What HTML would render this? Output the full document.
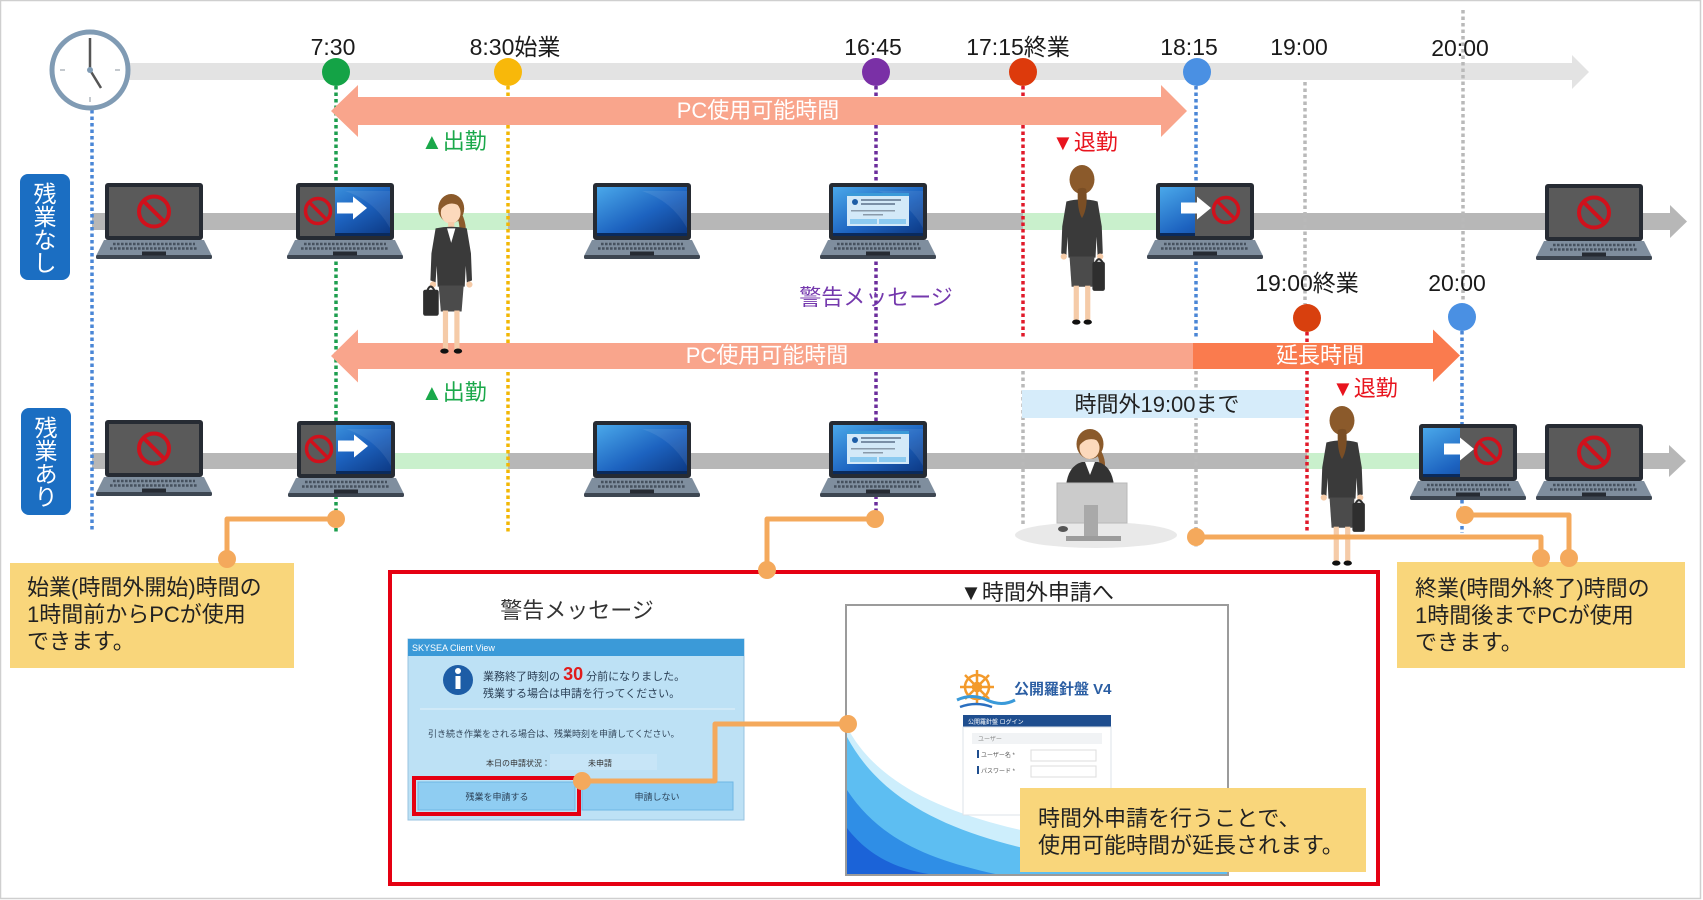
<!DOCTYPE html>
<html><head><meta charset="utf-8">
<style>
html,body{margin:0;padding:0;background:#fff;}
body{width:1703px;height:900px;overflow:hidden;}
svg{display:block;}
text{font-family:"Liberation Sans","Noto Sans CJK JP",sans-serif;}
</style></head>
<body>
<svg width="1703" height="900" viewBox="0 0 1703 900" xmlns="http://www.w3.org/2000/svg">
<defs>
 <linearGradient id="gScr" x1="0" y1="0" x2="1" y2="1">
  <stop offset="0" stop-color="#4aa8ea"/>
  <stop offset="0.55" stop-color="#1d63c0"/>
  <stop offset="1" stop-color="#0c3781"/>
 </linearGradient>
 <g id="lap">
  <rect x="-49" y="0" width="98" height="57" rx="3" fill="#262b33"/>
  <polygon points="-50,57 50,57 58,73 -58,73" fill="#7f8e9e"/>
  <rect x="-58" y="72" width="116" height="4" rx="1.5" fill="#3d4651"/>
  <line x1="-41" y1="61" x2="41" y2="61" stroke="#46515e" stroke-width="2.5" stroke-dasharray="2.6 1.4"/>
  <line x1="-44" y1="65.5" x2="44" y2="65.5" stroke="#46515e" stroke-width="2.5" stroke-dasharray="2.6 1.4"/>
  <rect x="-12" y="68.5" width="24" height="4" fill="#262b33"/>
 </g>
 <g id="sOff">
  <rect x="-45" y="4" width="90" height="49" fill="#5a5a5a"/>
  <circle cx="0" cy="28.5" r="15" fill="none" stroke="#d0111c" stroke-width="4"/>
  <line x1="-10.6" y1="17.9" x2="10.6" y2="39.1" stroke="#d0111c" stroke-width="4"/>
 </g>
 <g id="sOn">
  <rect x="-45" y="4" width="90" height="49" fill="url(#gScr)"/>
  <path d="M0,8 Q30,18 45,45 L45,8Z" fill="#fff" opacity="0.08"/>
  <rect x="-45" y="50" width="90" height="3" fill="#0a2a5c"/>
 </g>
 <g id="pro">
  <circle r="12.5" fill="none" stroke="#d0111c" stroke-width="3.5"/>
  <line x1="-8.8" y1="-8.8" x2="8.8" y2="8.8" stroke="#d0111c" stroke-width="3.5"/>
 </g>
 <g id="arw"><polygon points="-15,-5.5 1,-5.5 1,-11.5 15,0 1,11.5 1,5.5 -15,5.5" fill="#fff"/></g>
 <g id="sDlg">
  <rect x="-31" y="10" width="62" height="33" fill="#d3e9f8"/>
  <rect x="-31" y="10" width="62" height="3" fill="#3b9ad8"/>
  <circle cx="-23" cy="19" r="3" fill="#1d5da6"/>
  <rect x="-17" y="16" width="40" height="2" fill="#7a8fa6"/>
  <rect x="-17" y="20" width="34" height="2" fill="#7a8fa6"/>
  <rect x="-27" y="27" width="44" height="1.5" fill="#8a9aaa"/>
  <rect x="-15" y="31" width="20" height="1.5" fill="#8a9aaa"/>
  <rect x="-28" y="36" width="27" height="5" fill="#8ccaf0"/>
  <rect x="1" y="36" width="27" height="5" fill="#8ccaf0"/>
 </g>
 <g id="wf">
  <path d="M38,16 Q47,30 43,48 Q39,50 37,44 Q40,30 34,20Z" fill="#8b5a2b"/>
  <ellipse cx="30" cy="15" rx="12.5" ry="14" fill="#8b5a2b"/>
  <ellipse cx="29.5" cy="19" rx="9.5" ry="10.5" fill="#fcd9bc"/>
  <path d="M19,17 Q20,3 31,3 Q41,4 41,15 Q34,8 26,11 Q22,13 19,17Z" fill="#8b5a2b"/>
  <rect x="27" y="28" width="6" height="7" fill="#f5cba8"/>
  <path d="M15,34 Q30,31 45,34 L49,58 L50,84 L45,86 L44,70 L43,90 L17,90 L16,70 L15,86 L10,84 L11,58Z" fill="#3a3a3a"/>
  <polygon points="26,34 34,34 30,48" fill="#fff"/>
  <path d="M18,89 L42,89 L40,114 L20,114Z" fill="#4b4b4b"/>
  <rect x="22" y="113" width="5" height="38" fill="#f5cba8"/>
  <rect x="33" y="113" width="5" height="38" fill="#f5cba8"/>
  <ellipse cx="23.5" cy="152" rx="4" ry="2.5" fill="#111"/>
  <ellipse cx="36.5" cy="152" rx="4" ry="2.5" fill="#111"/>
  <circle cx="12.5" cy="88" r="3" fill="#f5cba8"/>
  <circle cx="47.5" cy="88" r="3" fill="#f5cba8"/>
  <path d="M7,94 Q10,86 14,94" stroke="#2e2e2e" fill="none" stroke-width="2"/>
  <rect x="3" y="93" width="15" height="25" rx="2" fill="#2e2e2e"/>
 </g>
 <g id="wb">
  <ellipse cx="25" cy="15" rx="12" ry="14" fill="#8b5a2b"/>
  <path d="M10,36 Q25,32 40,36 L44,60 L45,86 L40,88 L39,70 L38,90 L12,90 L11,70 L10,88 L5,86 L6,60Z" fill="#3a3a3a"/>
  <path d="M21,24 Q26,22 29,24 Q31,42 25,52 Q20,44 21,24Z" fill="#7a4e25"/>
  <path d="M13,89 L37,89 L35,118 L15,118Z" fill="#4b4b4b"/>
  <rect x="17" y="117" width="5" height="34" fill="#f5cba8"/>
  <rect x="28" y="117" width="5" height="34" fill="#f5cba8"/>
  <ellipse cx="19.5" cy="152" rx="4" ry="2.5" fill="#111"/>
  <ellipse cx="30.5" cy="152" rx="4" ry="2.5" fill="#111"/>
  <circle cx="7.5" cy="89" r="3" fill="#f5cba8"/>
  <circle cx="42.5" cy="89" r="3" fill="#f5cba8"/>
  <path d="M38,95 Q41,88 45,95" stroke="#2e2e2e" fill="none" stroke-width="2"/>
  <rect x="35" y="94" width="12" height="28" rx="2" fill="#2e2e2e"/>
 </g>
 <clipPath id="webClip"><rect x="847" y="606" width="380" height="268"/></clipPath>
</defs>

<!-- outer border -->
<rect x="0.5" y="0.5" width="1700" height="898" fill="#fff" stroke="#cfcfcf" stroke-width="1.5"/>

<!-- top timeline bar -->
<rect x="95" y="63" width="1477" height="17" fill="#e3e3e3"/>
<polygon points="1572,55 1589,72 1572,89" fill="#e3e3e3"/>

<!-- row bars -->
<rect x="92" y="213" width="1578" height="17" fill="#b7b7b7"/>
<polygon points="1670,205 1687,221.5 1670,238" fill="#b7b7b7"/>
<rect x="336" y="213" width="172" height="17" fill="#c9f0cc"/>
<rect x="1023" y="213" width="174" height="17" fill="#c9f0cc"/>

<rect x="92" y="453" width="1577" height="16" fill="#b7b7b7"/>
<polygon points="1669,445 1686,461 1669,477" fill="#b7b7b7"/>
<rect x="336" y="453" width="172" height="16" fill="#c9f0cc"/>
<rect x="1307" y="453" width="155" height="16" fill="#c9f0cc"/>

<!-- dotted lines -->
<g stroke-width="3.5" stroke-dasharray="3.5 3" fill="none">
 <line x1="92" y1="110" x2="92" y2="532" stroke="#4a86d6"/>
 <line x1="336" y1="86" x2="336" y2="532" stroke="#1d9e4e"/>
 <line x1="508" y1="86" x2="508" y2="532" stroke="#f2b705"/>
 <line x1="876" y1="86" x2="876" y2="519" stroke="#6b2d9c"/>
 <line x1="1023" y1="86" x2="1023" y2="337" stroke="#e01a2a"/>
 <line x1="1023" y1="345" x2="1023" y2="527" stroke="#b9b9b9"/>
 <line x1="1196" y1="86" x2="1196" y2="337" stroke="#4a86d6"/>
 <line x1="1196" y1="345" x2="1196" y2="547" stroke="#b9b9b9"/>
 <line x1="1305" y1="82" x2="1305" y2="304" stroke="#b9b9b9"/>
 <line x1="1307" y1="332" x2="1307" y2="532" stroke="#e01a2a"/>
 <line x1="1463" y1="10" x2="1463" y2="302" stroke="#b9b9b9"/>
 <line x1="1462" y1="331" x2="1462" y2="533" stroke="#4a86d6"/>
</g>

<!-- clock -->
<circle cx="90" cy="70" r="38" fill="#fff" stroke="#809bb4" stroke-width="5"/>
<g stroke="#c4c9ce" stroke-width="2">
 <line x1="60" y1="70" x2="65" y2="70"/><line x1="115" y1="70" x2="120" y2="70"/>
 <line x1="90" y1="97" x2="90" y2="102"/>
</g>
<line x1="90" y1="70" x2="90" y2="38" stroke="#555" stroke-width="2.5"/>
<line x1="90" y1="70" x2="101" y2="88" stroke="#555" stroke-width="2.5"/>
<circle cx="90" cy="70" r="3" fill="#7f9bb4"/>

<!-- timeline dots -->
<circle cx="336" cy="72" r="14" fill="#14a346"/>
<circle cx="508" cy="72" r="14" fill="#f8b80a"/>
<circle cx="876" cy="72" r="14" fill="#7a30a6"/>
<circle cx="1023" cy="72" r="14" fill="#dd3a0c"/>
<circle cx="1197" cy="72" r="14" fill="#4a90e3"/>
<circle cx="1307" cy="318" r="14" fill="#d8400e"/>
<circle cx="1462" cy="317" r="14" fill="#4a90e3"/>

<!-- time labels -->
<g font-size="23" fill="#1a1a1a" text-anchor="middle">
 <text x="333" y="55">7:30</text>
 <text x="515" y="55">8:30始業</text>
 <text x="873" y="55">16:45</text>
 <text x="1018" y="55">17:15終業</text>
 <text x="1189" y="55">18:15</text>
 <text x="1299" y="55">19:00</text>
 <text x="1460" y="56">20:00</text>
 <text x="1307" y="291">19:00終業</text>
 <text x="1457" y="291">20:00</text>
</g>

<!-- salmon arrows -->
<polygon points="331,111 358,85 358,97 1161,97 1161,85 1187,111 1161,137 1161,125 358,125 358,137" fill="#f9a58c"/>
<text x="758" y="118" font-size="22" fill="#fff" text-anchor="middle">PC使用可能時間</text>

<polygon points="331,356 358,329.5 358,343 1194,343 1194,369 358,369 358,382.5" fill="#f9a58c"/>
<polygon points="1193,343 1433,343 1433,329.5 1460,355.5 1433,382 1433,369 1193,369" fill="#fa7b4e"/>
<text x="767" y="363" font-size="22" fill="#fff" text-anchor="middle">PC使用可能時間</text>
<text x="1320" y="363" font-size="22" fill="#fff" text-anchor="middle">延長時間</text>

<!-- attendance labels -->
<g font-size="22">
 <text x="421" y="149" fill="#1aa84a">▲出勤</text>
 <text x="421" y="400" fill="#1aa84a">▲出勤</text>
 <text x="1052" y="150" fill="#e8141e">▼退勤</text>
 <text x="1332" y="396" fill="#e8141e">▼退勤</text>
 <text x="876" y="305" fill="#7438ad" text-anchor="middle">警告メッセージ</text>
</g>

<!-- row labels -->
<rect x="20" y="174" width="50" height="106" rx="8" fill="#1b6ec2"/>
<g font-size="23" fill="#fff" text-anchor="middle">
 <text x="45" y="202">残</text><text x="45" y="225">業</text><text x="45" y="248">な</text><text x="45" y="271">し</text>
</g>
<rect x="21" y="408" width="50" height="107" rx="8" fill="#1b6ec2"/>
<g font-size="23" fill="#fff" text-anchor="middle">
 <text x="46" y="436">残</text><text x="46" y="459">業</text><text x="46" y="482">あ</text><text x="46" y="505">り</text>
</g>

<!-- row 1 laptops -->
<use href="#lap" x="154" y="183"/><use href="#sOff" x="154" y="183"/>
<use href="#lap" x="345" y="183"/><use href="#sOn" x="345" y="183"/>
<rect x="300" y="187" width="35" height="49" fill="#5a5a5a"/>
<use href="#pro" x="318" y="211"/><use href="#arw" x="352" y="208"/>
<use href="#lap" x="642" y="183"/><use href="#sOn" x="642" y="183"/>
<use href="#lap" x="878" y="183"/><use href="#sOn" x="878" y="183"/><use href="#sDlg" x="878" y="183"/>
<use href="#lap" x="1205" y="183"/><use href="#sOn" x="1205" y="183"/>
<rect x="1195" y="187" width="55" height="49" fill="#5a5a5a"/>
<use href="#pro" x="1226" y="210"/><use href="#arw" x="1196" y="208"/>
<use href="#lap" x="1594" y="184"/><use href="#sOff" x="1594" y="184"/>

<!-- row 2 laptops -->
<use href="#lap" x="154" y="420"/><use href="#sOff" x="154" y="420"/>
<use href="#lap" x="346" y="421"/><use href="#sOn" x="346" y="421"/>
<rect x="301" y="425" width="35" height="49" fill="#5a5a5a"/>
<use href="#pro" x="319" y="449"/><use href="#arw" x="353" y="446"/>
<use href="#lap" x="642" y="421"/><use href="#sOn" x="642" y="421"/>
<use href="#lap" x="878" y="421"/><use href="#sOn" x="878" y="421"/><use href="#sDlg" x="878" y="421"/>
<use href="#lap" x="1468" y="424"/><use href="#sOn" x="1468" y="424"/>
<rect x="1460" y="428" width="53" height="49" fill="#5a5a5a"/>
<use href="#pro" x="1488" y="451"/><use href="#arw" x="1459" y="449"/>
<use href="#lap" x="1594" y="424"/><use href="#sOff" x="1594" y="424"/>

<!-- women -->
<use href="#wf" transform="translate(420,193) scale(1.04)"/>
<use href="#wb" transform="translate(1056,164) scale(1.04)"/>
<use href="#wb" transform="translate(1316,405) scale(1.04)"/>

<!-- light blue band -->
<rect x="1022" y="390" width="283" height="28" fill="#d6ecfa"/>
<text x="1157" y="412" font-size="22" fill="#222" text-anchor="middle">時間外19:00まで</text>

<!-- seated woman at desk -->
<ellipse cx="1096" cy="535" rx="81" ry="13" fill="#e9e9e9"/>
<path d="M1097,445 Q1108,458 1104,474 Q1100,476 1099,470 Q1101,458 1094,450Z" fill="#8b5a2b"/>
<ellipse cx="1090" cy="444" rx="13.5" ry="15" fill="#8b5a2b"/>
<ellipse cx="1089.5" cy="448" rx="10" ry="11" fill="#fcd9bc"/>
<path d="M1079,446 Q1080,431 1091,431 Q1102,432 1102,444 Q1095,437 1086,440 Q1082,442 1079,446Z" fill="#8b5a2b"/>
<path d="M1066,486 Q1068,466 1082,462 L1098,462 Q1112,466 1114,486Z" fill="#333"/>
<polygon points="1085,462 1095,462 1090,475" fill="#fff"/>
<rect x="1057" y="483" width="70" height="40" fill="#cbcbcb" stroke="#b8b8b8"/>
<rect x="1084" y="505" width="14" height="33" fill="#a9a9a9"/>
<rect x="1066" y="536" width="55" height="5" fill="#9c9c9c"/>
<ellipse cx="1063" cy="529" rx="5" ry="3" fill="#555"/>

<!-- yellow boxes -->
<rect x="10" y="563" width="284" height="105" fill="#f9d67b"/>
<g font-size="22" fill="#222">
 <text x="27" y="595">始業(時間外開始)時間の</text>
 <text x="27" y="622">1時間前からPCが使用</text>
 <text x="27" y="649">できます。</text>
</g>
<rect x="1397" y="562" width="288" height="106" fill="#f9d67b"/>
<g font-size="22" fill="#222">
 <text x="1415" y="596">終業(時間外終了)時間の</text>
 <text x="1415" y="623">1時間後までPCが使用</text>
 <text x="1415" y="650">できます。</text>
</g>

<!-- red box -->
<rect x="390" y="572" width="988" height="312" fill="#fff" stroke="#e50012" stroke-width="4"/>
<text x="577" y="618" font-size="22" fill="#333" text-anchor="middle">警告メッセージ</text>
<text x="1037" y="600" font-size="22" fill="#222" text-anchor="middle">▼時間外申請へ</text>

<!-- dialog screenshot -->
<rect x="408" y="639" width="336" height="181" fill="#bde1f5" stroke="#98c3e0"/>
<rect x="408" y="639" width="336" height="17" fill="#3b9ad8"/>
<text x="412" y="651" font-size="9" fill="#fff">SKYSEA Client View</text>
<circle cx="458" cy="680" r="15" fill="#1d5da6"/>
<rect x="455.5" y="676" width="5" height="13" fill="#fff"/>
<circle cx="458" cy="671" r="3" fill="#fff"/>
<text x="483" y="680" font-size="11" fill="#2a3f55">業務終了時刻の <tspan fill="#e01b1b" font-size="18" font-weight="bold">30</tspan> 分前になりました。</text>
<text x="483" y="697" font-size="11" fill="#2a3f55">残業する場合は申請を行ってください。</text>
<line x1="420" y1="709" x2="735" y2="709" stroke="#d7ecf8" stroke-width="1.5"/>
<text x="428" y="737" font-size="9" fill="#33475b">引き続き作業をされる場合は、残業時刻を申請してください。</text>
<rect x="550" y="754" width="107" height="16" fill="#c7e5f7"/>
<text x="518" y="766" font-size="8" fill="#333" text-anchor="middle">本日の申請状況：</text>
<text x="600" y="766" font-size="8" fill="#333" text-anchor="middle">未申請</text>
<rect x="418" y="782" width="157" height="28" fill="#8fcdf2" stroke="#6fb6e4"/>
<rect x="582" y="782" width="151" height="28" fill="#8fcdf2" stroke="#6fb6e4"/>
<text x="497" y="800" font-size="9" fill="#2a3f55" text-anchor="middle">残業を申請する</text>
<text x="657" y="800" font-size="9" fill="#2a3f55" text-anchor="middle">申請しない</text>
<rect x="414" y="778" width="165" height="36" fill="none" stroke="#e50012" stroke-width="4"/>

<!-- web screenshot -->
<rect x="846" y="605" width="382" height="270" fill="#fff" stroke="#9b9b9b" stroke-width="2"/>
<g clip-path="url(#webClip)">
 <path d="M847,727 C880,790 960,820 1060,838 L1228,852 L1228,875 L847,875Z" fill="#cdeefc"/>
 <path d="M847,737 C882,802 950,832 1040,852 L1228,872 L1228,875 L847,875Z" fill="#5dbef2"/>
 <path d="M847,790 C880,840 930,860 1000,875 L847,875Z" fill="#2f8ee6"/>
 <path d="M847,828 C870,858 900,870 935,875 L847,875Z" fill="#1b63d8"/>
</g>
<g stroke="#f39a2b" stroke-width="2.5" fill="none">
 <circle cx="977" cy="687" r="12"/>
 <circle cx="977" cy="687" r="4"/>
 <line x1="977" y1="670" x2="977" y2="704"/><line x1="960" y1="687" x2="994" y2="687"/>
 <line x1="965" y1="675" x2="989" y2="699"/><line x1="989" y1="675" x2="965" y2="699"/>
</g>
<path d="M957,700 Q972,693 987,700 Q1002,707 1015,700" stroke="#3a9ad9" stroke-width="3" fill="none"/>
<path d="M960,707 Q976,701 992,707" stroke="#2a6fc0" stroke-width="2.5" fill="none"/>
<text x="1014" y="694" font-size="15" font-weight="bold" fill="#2b5ea3">公開羅針盤 V4</text>
<rect x="963" y="715" width="148" height="12" fill="#1f4e8f"/>
<text x="968" y="724" font-size="6" fill="#fff">公開羅針盤 ログイン</text>
<rect x="963" y="727" width="148" height="88" fill="#fff" stroke="#dde3ea"/>
<rect x="972" y="733" width="130" height="11" fill="#f1f3f5"/>
<text x="978" y="741" font-size="6" fill="#888">ユーザー</text>
<rect x="977" y="750" width="2" height="8" fill="#1f4e8f"/>
<text x="981" y="757" font-size="6" fill="#555">ユーザー名 *</text>
<rect x="1031" y="750" width="65" height="11" fill="#fff" stroke="#ddd"/>
<rect x="977" y="766" width="2" height="8" fill="#1f4e8f"/>
<text x="981" y="773" font-size="6" fill="#555">パスワード *</text>
<rect x="1031" y="766" width="65" height="11" fill="#fff" stroke="#ddd"/>

<!-- note box -->
<rect x="1020" y="788" width="346" height="84" fill="#f9d67b"/>
<g font-size="22" fill="#222">
 <text x="1038" y="826">時間外申請を行うことで、</text>
 <text x="1038" y="853">使用可能時間が延長されます。</text>
</g>

<!-- connectors -->
<g stroke="#f4a95c" stroke-width="5" fill="none" stroke-linejoin="round">
 <polyline points="336,519 227,519 227,559"/>
 <polyline points="875,519 767,519 767,570"/>
 <polyline points="1196,537 1541,537 1541,558"/>
 <polyline points="1465,515 1569,515 1569,558"/>
 <polyline points="582,781 715,781 715,724 848,724"/>
</g>
<g fill="#f4a95c">
 <circle cx="336" cy="519" r="9"/><circle cx="227" cy="559" r="9"/>
 <circle cx="875" cy="519" r="9"/><circle cx="767" cy="570" r="9"/>
 <circle cx="1196" cy="537" r="9"/><circle cx="1541" cy="558" r="9"/>
 <circle cx="1465" cy="515" r="9"/><circle cx="1569" cy="558" r="9"/>
 <circle cx="582" cy="781" r="9"/><circle cx="848" cy="724" r="9"/>
</g>
</svg>
</body></html>
